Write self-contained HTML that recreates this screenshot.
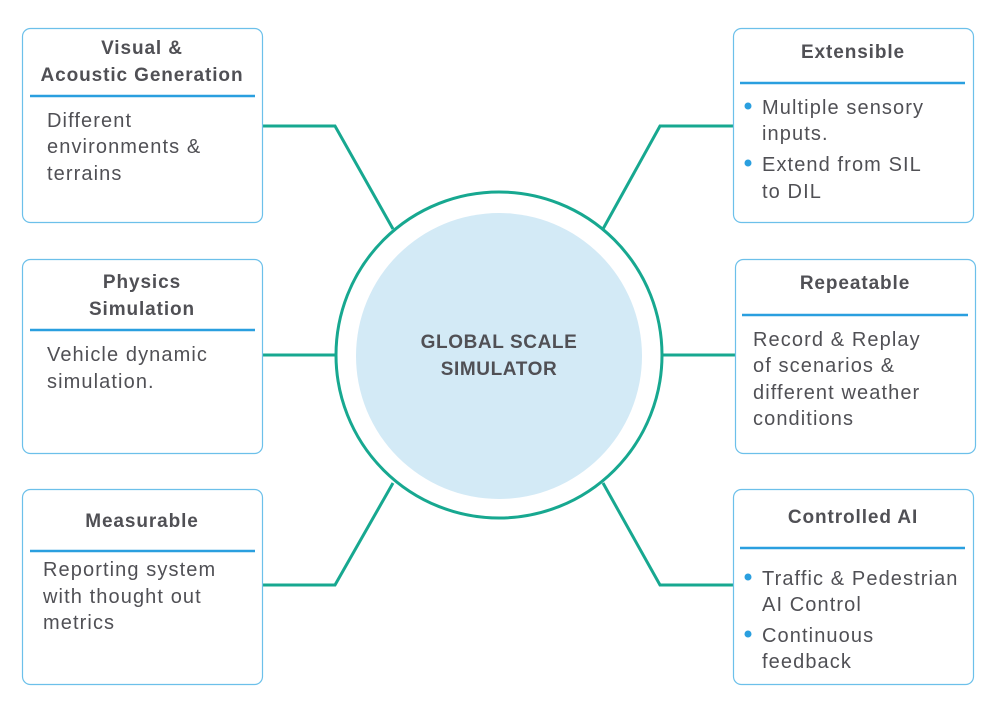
<!DOCTYPE html>
<html><head><meta charset="utf-8"><style>
html,body{margin:0;padding:0;background:#fff;}
svg{display:block;}
text{font-family:"Liberation Sans",sans-serif;fill:#505055;}
.t{font-weight:bold;font-size:19px;letter-spacing:0.9px;text-anchor:middle;}
.b{font-size:20px;letter-spacing:1.1px;}
</style></head><body>
<svg width="1000" height="712" viewBox="0 0 1000 712" xmlns="http://www.w3.org/2000/svg">
<g fill="none" stroke="#17a890" stroke-width="3">
<polyline points="263,126 335,126 393,229"/>
<line x1="263" y1="355" x2="335" y2="355"/>
<polyline points="263,585 335,585 393,483"/>
<polyline points="733,126 660,126 603,229"/>
<line x1="663" y1="355" x2="735" y2="355"/>
<polyline points="733,585 660,585 603,483"/>
<circle cx="499" cy="355" r="163"/>
</g>
<circle cx="499" cy="356" r="143" fill="#d3eaf6"/>
<text class="t" x="499" y="348" style="font-size:19px;letter-spacing:0.6px">GLOBAL SCALE</text>
<text class="t" x="499" y="375" style="font-size:19px;letter-spacing:0.6px">SIMULATOR</text>

<g fill="#fff" stroke="#6cc0ea" stroke-width="1.2">
<rect x="22.5" y="28.5" width="240" height="194" rx="8"/>
<rect x="22.5" y="259.5" width="240" height="194" rx="8"/>
<rect x="22.5" y="489.5" width="240" height="195" rx="8"/>
<rect x="733.5" y="28.5" width="240" height="194" rx="8"/>
<rect x="735.5" y="259.5" width="240" height="194" rx="8"/>
<rect x="733.5" y="489.5" width="240" height="195" rx="8"/>
</g>
<g stroke="#2a9fdf" stroke-width="2.5">
<line x1="30" y1="96" x2="255" y2="96"/>
<line x1="30" y1="330" x2="255" y2="330"/>
<line x1="30" y1="551" x2="255" y2="551"/>
<line x1="740" y1="83" x2="965" y2="83"/>
<line x1="742" y1="315" x2="968" y2="315"/>
<line x1="740" y1="548" x2="965" y2="548"/>
</g>
<g fill="#2a9fdf">
<circle cx="748" cy="106" r="3.5"/><circle cx="748" cy="163" r="3.5"/>
<circle cx="748" cy="577" r="3.5"/><circle cx="748" cy="634" r="3.5"/>
</g>

<text class="t" x="142" y="54">Visual &amp;</text>
<text class="t" x="142" y="81">Acoustic Generation</text>
<text class="b" x="47" y="127">Different</text>
<text class="b" x="47" y="153">environments &amp;</text>
<text class="b" x="47" y="180">terrains</text>

<text class="t" x="142" y="288">Physics</text>
<text class="t" x="142" y="315">Simulation</text>
<text class="b" x="47" y="361">Vehicle dynamic</text>
<text class="b" x="47" y="388">simulation.</text>

<text class="t" x="142" y="527">Measurable</text>
<text class="b" x="43" y="576">Reporting system</text>
<text class="b" x="43" y="603">with thought out</text>
<text class="b" x="43" y="629">metrics</text>

<text class="t" x="853" y="58">Extensible</text>
<text class="b" x="762" y="114">Multiple sensory</text>
<text class="b" x="762" y="140">inputs.</text>
<text class="b" x="762" y="171">Extend from SIL</text>
<text class="b" x="762" y="198">to DIL</text>

<text class="t" x="855" y="289">Repeatable</text>
<text class="b" x="753" y="346">Record &amp; Replay</text>
<text class="b" x="753" y="372">of scenarios &amp;</text>
<text class="b" x="753" y="399">different weather</text>
<text class="b" x="753" y="425">conditions</text>

<text class="t" x="853" y="523">Controlled AI</text>
<text class="b" x="762" y="585">Traffic &amp; Pedestrian</text>
<text class="b" x="762" y="611">AI Control</text>
<text class="b" x="762" y="642">Continuous</text>
<text class="b" x="762" y="668">feedback</text>
</svg>
</body></html>
